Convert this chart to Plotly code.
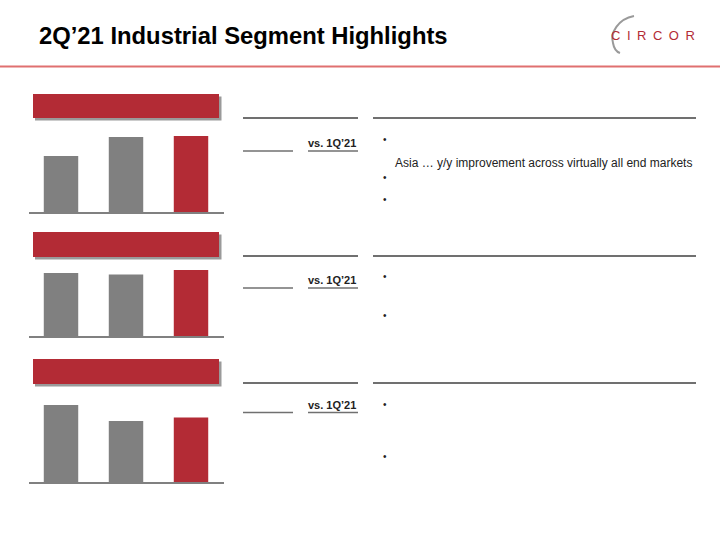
import plotly.graph_objects as go

# ---- data ----
periods = ["2Q'20", "1Q'21", "2Q'21"]
chart1_values = [56, 75, 76]
chart2_values = [63, 61.5, 66]
chart3_values = [77, 61, 64.5]
bar_colors = ["#808080", "#808080", "#b32b35"]

title_text = "2Q’21 Industrial Segment Highlights"
compare_label = "vs. 1Q’21"
bullet_text_1 = "Asia … y/y improvement across virtually all end markets"

W, H = 720, 540
RED = "#b32b35"

fig = go.Figure()

series = [chart1_values, chart2_values, chart3_values]
baselines = [212, 336, 482]  # pixel rows of each mini chart baseline
for i, (vals, base) in enumerate(zip(series, baselines), start=1):
    fig.add_trace(go.Bar(
        x=periods, y=vals, marker=dict(color=bar_colors, line=dict(width=0)),
        width=0.53, xaxis=f"x{i}", yaxis=f"y{i}", showlegend=False,
        hoverinfo="skip"))
    y0 = (H - base) / H
    y1 = (H - (base - 100)) / H
    fig.layout[f"xaxis{i}"] = dict(domain=[28.5 / W, 223.5 / W], range=[-0.5, 2.5],
                                   showticklabels=False, ticks="", showgrid=False,
                                   showline=True, linecolor="#808080", linewidth=2,
                                   zeroline=False, anchor=f"y{i}", fixedrange=True)
    fig.layout[f"yaxis{i}"] = dict(domain=[y0, y1], range=[0, 100], visible=False,
                                   anchor=f"x{i}", fixedrange=True)

# overlay pixel axis for decorations
fig.layout["xaxis4"] = dict(domain=[0, 1], range=[0, W], visible=False, anchor="y4", fixedrange=True)
fig.layout["yaxis4"] = dict(domain=[0, 1], range=[H, 0], visible=False, anchor="x4", fixedrange=True)
fig.add_trace(go.Scatter(x=[0], y=[0], xaxis="x4", yaxis="y4", mode="markers",
                         marker=dict(opacity=0), showlegend=False, hoverinfo="skip"))

shapes = []
ann = []

def line(x0, y0, x1, y1, color, width):
    shapes.append(dict(type="line", xref="x4", yref="y4", x0=x0, y0=y0, x1=x1, y1=y1,
                       line=dict(color=color, width=width)))

def rect(x0, y0, x1, y1, color):
    shapes.append(dict(type="rect", xref="x4", yref="y4", x0=x0, y0=y0, x1=x1, y1=y1,
                       fillcolor=color, line=dict(width=0), layer="above"))

def text(x, y, s, size, color="#000000", bold=False, xanchor="left", family="Liberation Sans, Arial, sans-serif"):
    ann.append(dict(xref="x4", yref="y4", x=x, y=y, text=(f"<b>{s}</b>" if bold else s),
                    showarrow=False, xanchor=xanchor, yanchor="middle",
                    font=dict(size=size, color=color, family=family)))

# header
text(37, 35.5, title_text, 23.8, bold=True)
line(0, 66.5, W, 66.5, "#e07070", 2)
text(653, 35.5, "C\u2002I\u2002R\u2002C\u2002O\u2002R", 13, color=RED, xanchor="center")
shapes.append(dict(type="path", xref="x4", yref="y4",
                   path="M 634,16 C 618,19 610,33 613,43 C 614,49 617,52 620,53",
                   line=dict(color="#9a9a9a", width=2)))

# section headers and rules
headers = [(94, 118), (232, 257), (359, 384)]
top_rules = [118, 256, 383]
vs_rows = [142.5, 279.5, 404.5]
under_rows = [151, 288, 412.5]
bullet_rows = [[140, 178, 200], [277, 316], [405, 457]]

for (hy0, hy1), tr, vr, ur, brs in zip(headers, top_rules, vs_rows, under_rows, bullet_rows):
    rect(35, hy0 + 2.5, 221.5, hy1 + 2.5, "#9a9a9a")
    rect(33, hy0, 219, hy1, RED)
    line(243, tr, 358, tr, "#404040", 1.5)
    line(373, tr, 696, tr, "#404040", 1.5)
    line(243, ur, 293, ur, "#707070", 1.5)
    line(308, ur, 358, ur, "#707070", 1.5)
    text(358, vr, compare_label, 11, color="#222222", bold=True, xanchor="right")
    for by in brs:
        text(381, by - 0.5, "•", 10, color="#222222")

text(393, 163, bullet_text_1, 12, color="#222222")

fig.update_layout(width=W, height=H, margin=dict(l=0, r=0, t=0, b=0),
                  paper_bgcolor="white", plot_bgcolor="rgba(0,0,0,0)",
                  bargap=0.47, shapes=shapes, annotations=ann)

fig.write_html("out.html", config={"displayModeBar": False},
               post_script="document.body.style.margin='0';")
